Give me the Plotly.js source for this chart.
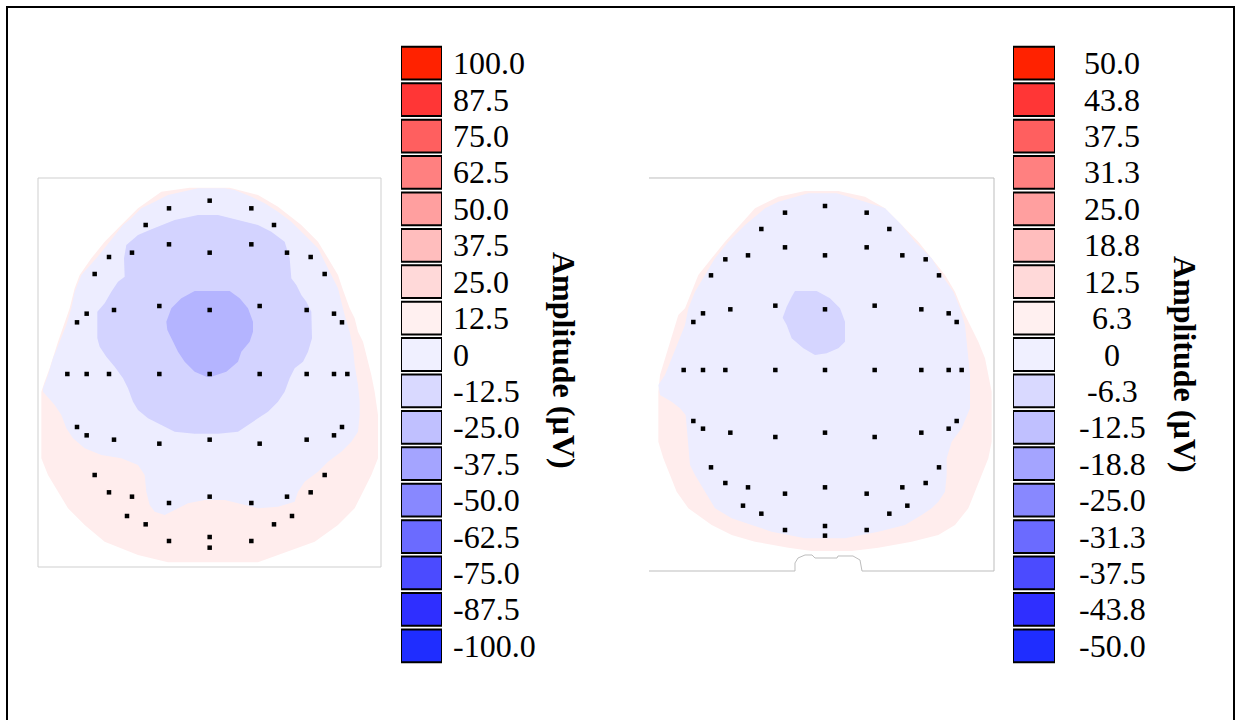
<!DOCTYPE html>
<html>
<head>
<meta charset="utf-8">
<script src="https://cdn.plot.ly/plotly-3.0.1.min.js"></script>
<style>html,body{margin:0;padding:0;background:#fff;}#chart{width:1237px;height:720px;}</style>
</head>
<body>
<div id="chart"></div>
<script>
// ---------- Data ----------
// Colour-bar levels (bottom -> top)
const levelsLeft = ['-100.0','-87.5','-75.0','-62.5','-50.0','-37.5','-25.0','-12.5','0','12.5','25.0','37.5','50.0','62.5','75.0','87.5','100.0'];
const levelsRight = ['-50.0','-43.8','-37.5','-31.3','-25.0','-18.8','-12.5','-6.3','0','6.3','12.5','18.8','25.0','31.3','37.5','43.8','50.0'];
const levelColors = ['#1f2dff','#2f2fff','#4b4bff','#6b6bff','#8888ff','#a4a4ff','#c0c0ff','#d9d9ff','#f0f0ff',
                     '#fff0f0','#ffd9d9','#ffbdbd','#ff9f9f','#ff8080','#ff5f5f','#ff3636','#ff2200'];

// Left topography: region outlines (map units)
const leftPink = [[455,38],[575,38],[660,60],[720,95],[790,150],[840,200],[870,250],[900,300],[915,345],[935,400],[950,430],[960,470],[975,500],[990,560],[1000,600],[1010,650],[1020,720],[1020,850],[1000,900],[975,950],[950,1000],[900,1050],[830,1100],[720,1140],[660,1162],[390,1162],[300,1140],[200,1100],[140,1050],[90,1000],[60,950],[30,900],[10,850],[10,650],[20,620],[35,580],[60,500],[80,440],[95,400],[110,340],[125,300],[160,250],[200,200],[240,160],[300,100],[370,50]];
const leftZero = [[480,40],[560,40],[590,45],[640,65],[680,85],[720,110],[760,140],[800,180],[840,220],[860,260],[880,300],[900,340],[910,380],[920,420],[935,470],[945,520],[950,570],[960,630],[965,680],[965,720],[960,770],[940,800],[910,830],[870,860],[840,890],[800,920],[780,950],[770,980],[720,995],[660,1000],[600,985],[560,975],[500,975],[450,985],[410,1005],[380,1020],[350,1010],[335,990],[325,950],[320,900],[300,870],[250,850],[190,840],[140,820],[105,790],[85,760],[70,720],[50,690],[15,650],[15,640],[30,600],[45,550],[65,500],[85,450],[100,400],[110,350],[130,300],[175,250],[215,200],[255,150],[280,130],[310,100],[350,80],[390,60]];
const leftMid = [[480,120],[540,120],[600,135],[660,150],[700,170],[740,200],[755,250],[760,310],[775,330],[790,360],[805,380],[820,410],[822,490],[810,530],[795,560],[770,580],[755,610],[740,650],[720,680],[690,710],[660,730],[630,750],[600,770],[540,776],[470,776],[410,770],[370,750],[330,730],[300,705],[285,680],[270,640],[255,610],[230,575],[205,545],[185,515],[178,490],[178,410],[200,385],[220,350],[240,320],[260,305],[258,250],[265,210],[300,180],[335,165],[370,150],[410,135]];
const leftDeep = [[470,348],[575,348],[605,370],[630,400],[645,440],[645,470],[635,500],[610,530],[600,560],[565,590],[520,605],[505,605],[470,590],[440,560],[420,530],[405,500],[388,465],[385,440],[400,400],[430,370]];
const leftElectrodes = [[515,77],[393,100],[640,100],[323,150],[708,150],[393,208],[640,208],
 [213,246],[282,233],[515,233],[747,233],[818,246],[170,297],[860,297],
 [146,416],[117,442],[228,405],[364,393],[515,405],[665,393],[806,405],[888,416],[912,442],
 [88,597],[146,597],[213,597],[364,597],[515,597],[665,597],[806,597],[888,597],[928,597],
 [117,756],[146,781],[228,794],[364,806],[515,794],[665,806],[806,794],[888,781],[912,756],
 [170,900],[860,900],[213,952],[282,965],[393,984],[515,965],[640,984],[747,965],[818,952],
 [267,1023],[323,1048],[708,1048],[762,1023],[393,1098],[515,1086],[515,1118],[640,1098]];

// Right topography
const rightPink = [[480,48],[580,48],[660,65],[720,100],[770,150],[820,200],[860,250],[900,300],[930,350],[950,400],[965,430],[985,470],[1000,500],[1020,550],[1030,600],[1040,650],[1040,800],[1030,850],[1010,900],[990,950],[970,1000],[930,1050],[880,1080],[800,1100],[700,1118],[620,1128],[500,1128],[430,1118],[330,1100],[260,1080],[200,1050],[130,1000],[95,950],[75,900],[55,850],[40,800],[40,650],[45,600],[60,550],[75,500],[90,450],[100,420],[120,400],[140,350],[160,300],[200,250],[240,200],[285,150],[330,100],[400,65]];
const rightZero = [[490,55],[575,55],[660,80],[720,100],[770,150],[810,200],[860,250],[890,300],[925,350],[945,400],[960,450],[965,500],[970,550],[975,600],[975,700],[950,760],[920,800],[905,850],[905,900],[900,950],[880,980],[860,1000],[830,1020],[780,1050],[700,1070],[600,1090],[480,1090],[380,1070],[320,1050],[260,1030],[210,1000],[180,950],[150,900],[135,870],[128,800],[122,720],[105,700],[80,680],[45,660],[40,630],[60,600],[80,550],[100,500],[120,450],[130,400],[150,350],[180,300],[210,250],[250,200],[300,150],[360,100],[400,80]];
const rightMid = [[450,348],[515,348],[555,370],[585,400],[600,440],[600,500],[580,520],[545,535],[510,540],[475,520],[440,490],[425,450],[413,428],[425,395],[440,365]];
const rightElectrodes = [[540,93],[420,113],[665,113],[349,162],[733,162],[420,217],[665,217],
 [241,253],[309,241],[540,241],[772,241],[842,253],[198,301],[882,301],
 [174,415],[145,441],[256,403],[391,392],[540,403],[689,392],[829,403],[911,415],[935,441],
 [116,585],[174,585],[241,585],[391,585],[540,585],[689,585],[829,585],[911,585],[950,585],
 [145,738],[174,761],[256,773],[391,786],[540,773],[689,786],[829,773],[911,761],[935,738],
 [198,877],[882,877],[241,924],[309,937],[420,956],[540,937],[665,956],[772,937],[842,924],
 [294,992],[349,1016],[733,1016],[787,992],[420,1065],[540,1053],[540,1082],[665,1065]];

const titleText = 'Amplitude (µV)';

// ---------- Drawing ----------
const W = 1237, H = 720;
const px = x => x / W;
const py = y => 1 - y / H;
const FONT = 'Liberation Serif, Times New Roman, serif';

function region(pairs, color, xa, ya) {
  return {type:'scatter', mode:'lines', x:pairs.map(p=>p[0]), y:pairs.map(p=>p[1]),
    fill:'toself', fillcolor:color, line:{width:0, color:color}, xaxis:xa, yaxis:ya,
    hoverinfo:'skip', showlegend:false};
}
function dots(pairs, xa, ya) {
  return {type:'scatter', mode:'markers', x:pairs.map(p=>p[0]), y:pairs.map(p=>p[1]),
    marker:{symbol:'square', size:4.5, color:'#000', line:{width:0}}, xaxis:xa, yaxis:ya,
    hoverinfo:'skip', showlegend:false};
}
function swatches(labels, xa, ya) {
  return {type:'bar', orientation:'h', y:labels, x:labels.map(()=>1), base:0, width:0.9,
    marker:{color:levelColors, line:{color:'#000', width:2}}, xaxis:xa, yaxis:ya,
    hoverinfo:'skip', showlegend:false};
}

const data = [
  region(leftPink, '#ffeded', 'x', 'y'),
  region(leftZero, '#ededff', 'x', 'y'),
  region(leftMid, '#d3d3ff', 'x', 'y'),
  region(leftDeep, '#b4b4ff', 'x', 'y'),
  dots(leftElectrodes, 'x', 'y'),
  region(rightPink, '#ffeded', 'x2', 'y2'),
  region(rightZero, '#ededff', 'x2', 'y2'),
  region(rightMid, '#d5d5ff', 'x2', 'y2'),
  dots(rightElectrodes, 'x2', 'y2'),
  swatches(levelsLeft, 'x3', 'y3'),
  swatches(levelsRight, 'x4', 'y4')
];

const hidden = {visible:false, showgrid:false, zeroline:false, fixedrange:true};
const annotations = [];
levelsLeft.forEach((t,i)=>annotations.push({xref:'paper', yref:'y3', x:px(451), y:i, text:t,
  xanchor:'left', yanchor:'middle', showarrow:false, font:{family:FONT, size:32, color:'#000'}}));
levelsRight.forEach((t,i)=>annotations.push({xref:'paper', yref:'y4', x:px(1112), y:i, text:t,
  xanchor:'center', yanchor:'middle', showarrow:false, font:{family:FONT, size:32, color:'#000'}}));
annotations.push({xref:'paper', yref:'paper', x:px(564), y:py(360), text:'<b>'+titleText+'</b>', textangle:90,
  showarrow:false, xanchor:'center', yanchor:'middle', font:{family:FONT, size:32, color:'#000'}});
annotations.push({xref:'paper', yref:'paper', x:px(1185), y:py(364), text:'<b>'+titleText+'</b>', textangle:90,
  showarrow:false, xanchor:'center', yanchor:'middle', font:{family:FONT, size:32, color:'#000'}});

// right-hand map frame with nose notch (paper coords)
const notch = [[649,571],[795,571],[795,563],[798,558],[805,555],[812,555],[815,558],[837,558],[838,556],[853,556],[860,560],[862,571],[994,571],[994,178],[649,178]];
const notchPath = 'M' + notch.map(p=>px(p[0]).toFixed(5)+','+py(p[1]).toFixed(5)).join(' L');

const layout = {
  width:W, height:H, margin:{l:0,r:0,t:0,b:0}, paper_bgcolor:'#fff', plot_bgcolor:'rgba(0,0,0,0)',
  showlegend:false, barmode:'overlay', bargap:0,
  xaxis:Object.assign({domain:[px(38),px(383)], range:[0,1035], anchor:'y'}, hidden),
  yaxis:Object.assign({domain:[py(570),py(175)], range:[1185,0], anchor:'x'}, hidden),
  xaxis2:Object.assign({domain:[px(645),px(997)], range:[0,1056], anchor:'y2'}, hidden),
  yaxis2:Object.assign({domain:[py(575),py(175)], range:[1200,0], anchor:'x2'}, hidden),
  xaxis3:Object.assign({domain:[px(401),px(442)], range:[0,1], anchor:'y3'}, hidden),
  yaxis3:Object.assign({domain:[py(664),py(45)], type:'category', categoryorder:'array', categoryarray:levelsLeft, range:[-0.5,16.5], anchor:'x3'}, hidden),
  xaxis4:Object.assign({domain:[px(1013),px(1055)], range:[0,1], anchor:'y4'}, hidden),
  yaxis4:Object.assign({domain:[py(664),py(45)], type:'category', categoryorder:'array', categoryarray:levelsRight, range:[-0.5,16.5], anchor:'x4'}, hidden),
  annotations:annotations,
  shapes:[
    {type:'rect', xref:'paper', yref:'paper', x0:px(7), x1:px(1234), y0:-0.02, y1:py(7), line:{color:'#000', width:2}, fillcolor:'rgba(0,0,0,0)'},
    {type:'rect', xref:'paper', yref:'paper', x0:px(38), x1:px(381), y0:py(567), y1:py(178), line:{color:'#cfcfcf', width:1}, fillcolor:'rgba(0,0,0,0)', layer:'below'},
    {type:'path', xref:'paper', yref:'paper', path:notchPath, line:{color:'#bdbdbd', width:1}, fillcolor:'rgba(0,0,0,0)', layer:'below'}
  ]
};

Plotly.newPlot('chart', data, layout, {displayModeBar:false, staticPlot:true});
</script>
</body>
</html>
